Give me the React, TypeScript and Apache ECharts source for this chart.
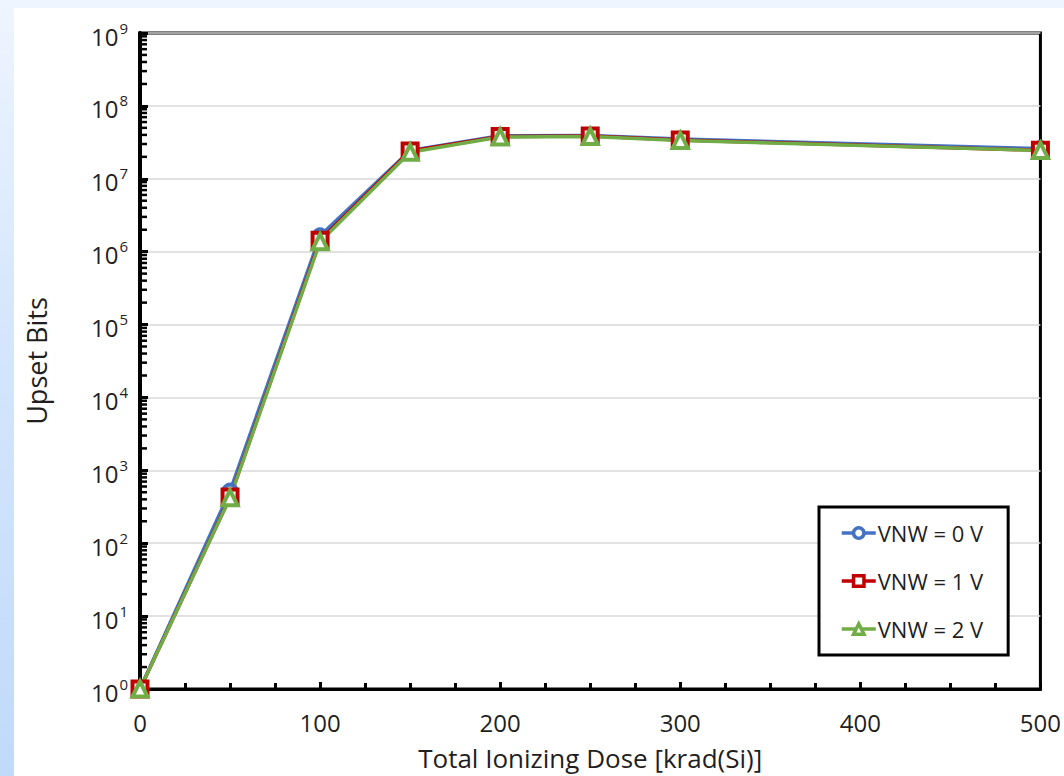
import React, { useEffect, useRef } from "react";
import * as echarts from "echarts";

const doses = [0, 50, 100, 150, 200, 250, 300, 500];
const vnw0 = [1, 520, 1.65e6, 2.45e7, 3.9e7, 3.92e7, 3.5e7, 2.6e7];
const vnw1 = [1, 430, 1.43e6, 2.41e7, 3.8e7, 3.86e7, 3.4e7, 2.46e7];
const vnw2 = [1, 420, 1.37e6, 2.31e7, 3.75e7, 3.8e7, 3.36e7, 2.45e7];
const seriesNames = ["VNW = 0 V", "VNW = 1 V", "VNW = 2 V"];
const xTicks = [0, 100, 200, 300, 400, 500];
const decades = [0, 1, 2, 3, 4, 5, 6, 7, 8];
const mantissas = [2, 3, 4, 5, 6, 7, 8, 9];

const minorTicks: number[][] = [];
decades.forEach((e) => mantissas.forEach((m) => minorTicks.push([0, m * Math.pow(10, e)])));

const FONT = "Open Sans";
const TXT = "#1f1f1f";

export default function App() {
  const ref = useRef<HTMLDivElement>(null);
  useEffect(() => {
    if (!ref.current) return;
    const chart = echarts.init(ref.current, undefined, { renderer: "svg" });
    const mk = (name: string, data: number[], color: string, symbol: string, size: number) => ({
      name,
      type: "line",
      data: doses.map((d, i) => [d, data[i]]),
      symbol,
      symbolSize: size,
      showAllSymbol: true,
      lineStyle: { color, width: 3.5 },
      itemStyle: { color: "#fff", borderColor: color, borderWidth: 4 },
      z: 3,
    });
    chart.setOption({
      animation: false,
      backgroundColor: "transparent",
      graphic: [
        {
          type: "rect",
          z: -10,
          silent: true,
          shape: { x: 14, y: 8, width: 1064 - 14, height: 776 - 8 },
          style: { fill: "#ffffff" },
        },
      ],
      grid: {
        left: 140,
        right: 22,
        top: 33,
        bottom: 83,
        show: true,
        borderColor: "#000",
        borderWidth: 3,
        backgroundColor: "transparent",
      },
      legend: {
        orient: "vertical",
        left: 819,
        top: 507,
        data: seriesNames,
        itemWidth: 34,
        itemHeight: 13,
        itemGap: 20,
        padding: [12, 25, 12, 21],
        backgroundColor: "#fff",
        borderColor: "#000",
        borderWidth: 3,
        borderRadius: 0,
        lineStyle: { width: 3.5 },
        itemStyle: { borderWidth: 3.5 },
        textStyle: { fontFamily: FONT, fontSize: 22, color: TXT, lineHeight: 28, padding: [0, 0, 0, -3] },
      },
      xAxis: {
        type: "value",
        min: 0,
        max: 500,
        interval: 100,
        name: "Total Ionizing Dose [krad(Si)]",
        nameLocation: "middle",
        nameGap: 57,
        nameTextStyle: { fontFamily: FONT, fontSize: 26, color: TXT, lineHeight: 24 },
        axisLine: { show: true, onZero: false, lineStyle: { color: "#000", width: 3 } },
        axisTick: { show: true, inside: true, length: 7, lineStyle: { color: "#000", width: 3 } },
        minorTick: { show: true, splitNumber: 4, length: 6, lineStyle: { color: "#000", width: 3 } },
        splitLine: { show: false },
        axisLabel: {
          fontFamily: FONT,
          fontSize: 24,
          color: TXT,
          lineHeight: 24,
          margin: 21,
          formatter: (v: number) => (xTicks.includes(v) ? String(v) : ""),
        },
      },
      yAxis: {
        type: "log",
        logBase: 10,
        min: 1,
        max: 1e9,
        name: "Upset Bits",
        nameLocation: "middle",
        nameGap: 90,
        nameRotate: 90,
        nameTextStyle: { fontFamily: FONT, fontSize: 27, color: TXT },
        axisLine: { show: true, lineStyle: { color: "#000", width: 4 } },
        axisTick: { show: true, inside: true, length: 8, lineStyle: { color: "#000", width: 3 } },
        splitLine: { show: true, lineStyle: { color: "#d9d9d9", width: 1.5 } },
        axisLabel: {
          margin: 12,
          formatter: (v: number) => "{b|10}{s|" + Math.round(Math.log10(v)) + "}",
          rich: {
            b: { fontFamily: FONT, fontSize: 24, color: TXT, lineHeight: 26, padding: [6, 0, 0, 0] },
            s: { fontFamily: FONT, fontSize: 15, color: TXT, lineHeight: 26, verticalAlign: "top", padding: [0, 0, 6, 1] },
          },
        },
      },
      series: [
        {
          type: "custom",
          silent: true,
          clip: false,
          z: 5,
          data: minorTicks,
          encode: { x: 0, y: 1 },
          renderItem: (params: any, api: any) => {
            const p = api.coord([api.value(0), api.value(1)]);
            return {
              type: "line",
              shape: { x1: p[0], y1: p[1], x2: p[0] + 7, y2: p[1] },
              style: { stroke: "#000", lineWidth: 2.5 },
            };
          },
        },
        mk(seriesNames[0], vnw0, "#4472C4", "circle", 13),
        mk(seriesNames[1], vnw1, "#C00000", "rect", 15),
        mk(seriesNames[2], vnw2, "#70AD47", "triangle", 15),
      ],
    });
    return () => chart.dispose();
  }, []);
  return (
    <div
      style={{
        position: "fixed",
        left: 0,
        top: 0,
        width: 1064,
        height: 776,
        background: "linear-gradient(to bottom, #eef5fe 0%, #d6e7fc 40%, #c0dafa 100%)",
      }}
    >
      <div ref={ref} style={{ width: 1064, height: 776 }} />
    </div>
  );
}
